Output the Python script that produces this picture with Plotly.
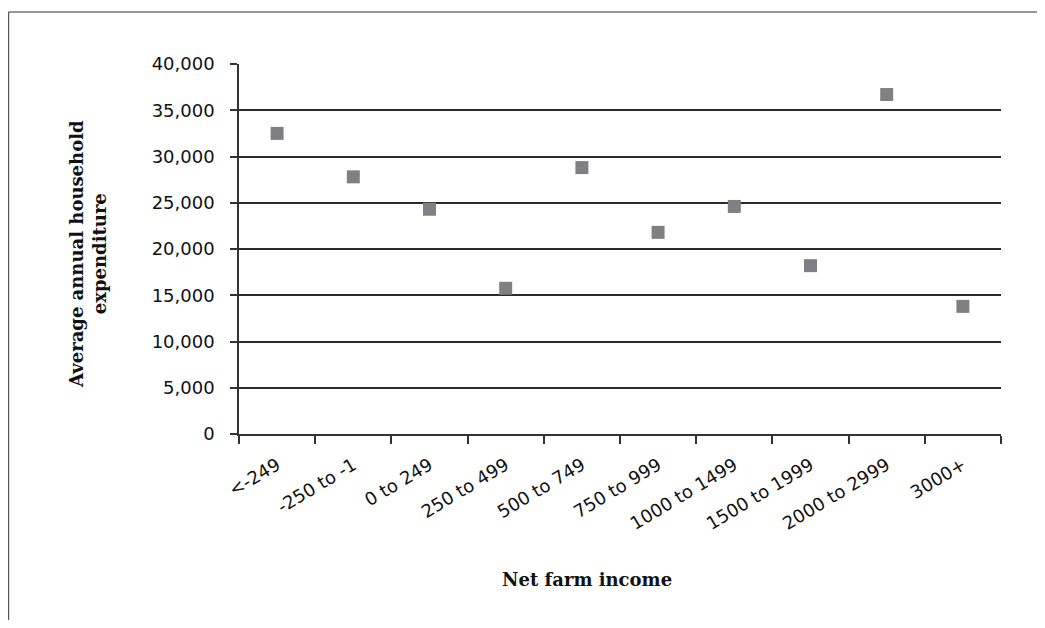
import plotly.graph_objects as go

categories = ["<-249", "-250 to -1", "0 to 249", "250 to 499", "500 to 749",
              "750 to 999", "1000 to 1499", "1500 to 1999", "2000 to 2999", "3000+"]
expenditure = [32500, 27800, 24300, 15750, 28800, 21800, 24600, 18200, 36700, 13800]
y_ticks = [0, 5000, 10000, 15000, 20000, 25000, 30000, 35000, 40000]
y_tick_labels = ["0", "5,000", "10,000", "15,000", "20,000", "25,000", "30,000", "35,000", "40,000"]

# page body has an 8px margin; positions below are in figure pixels
OFF = 8
W, H = 1045 - 2 * OFF, 628 - 2 * OFF
L, R, T, B = 239 - OFF, 1001 - OFF, 64 - OFF, 434 - OFF

tick_font = dict(family="DejaVu Sans", size=18, color="#111111")
title_font = dict(family="DejaVu Serif", size=18, color="#111111")

fig = go.Figure()
fig.add_trace(go.Scatter(
    x=categories, y=expenditure, mode="markers",
    marker=dict(symbol="square", size=13, color="#808084", line=dict(width=0)),
    showlegend=False, hoverinfo="x+y",
))

def px_x(p):
    return (p - OFF - L) / (R - L)

def px_y(p):
    return (B - (p - OFF)) / (B - T)

fig.update_layout(
    width=W, height=H,
    margin=dict(l=L, r=W - R, t=T, b=H - B, pad=0),
    paper_bgcolor="white", plot_bgcolor="white",
    xaxis=dict(
        type="category", range=[-0.5, 9.5], tickson="boundaries",
        ticks="outside", ticklen=8, tickwidth=1.5, tickcolor="#333333",
        showline=True, linecolor="#333333", linewidth=1.5,
        showgrid=False, zeroline=False, tickangle=-31,
        tickfont=tick_font, ticklabelstandoff=12,
    ),
    yaxis=dict(
        range=[0, 40000], tickvals=y_ticks, ticktext=y_tick_labels,
        ticks="outside", ticklen=7, tickwidth=1.5, tickcolor="#333333",
        showline=True, linecolor="#333333", linewidth=1.5,
        showgrid=True, gridcolor="#2a2a2a", gridwidth=1.5, zeroline=False,
        tickfont=tick_font, ticklabelstandoff=12,
    ),
    shapes=[
        dict(type="line", xref="paper", yref="paper",
             x0=px_x(8.6), y0=px_y(12), x1=px_x(1070), y1=px_y(12),
             line=dict(color="#333333", width=1.2)),
        dict(type="line", xref="paper", yref="paper",
             x0=px_x(8.6), y0=px_y(12), x1=px_x(8.6), y1=px_y(680),
             line=dict(color="#555555", width=1.2)),
    ],
    annotations=[
        dict(text="<b>Average annual household<br>expenditure</b>", xref="paper", yref="paper",
             x=px_x(88), y=px_y(254), textangle=-90, showarrow=False,
             font=title_font, xanchor="center", yanchor="middle"),
        dict(text="<b>Net farm income</b>", xref="paper", yref="paper",
             x=px_x(587), y=px_y(579), showarrow=False,
             font=dict(family="DejaVu Serif", size=18, color="#111111"),
             xanchor="center", yanchor="middle"),
    ],
)

fig.write_html("out.html")
